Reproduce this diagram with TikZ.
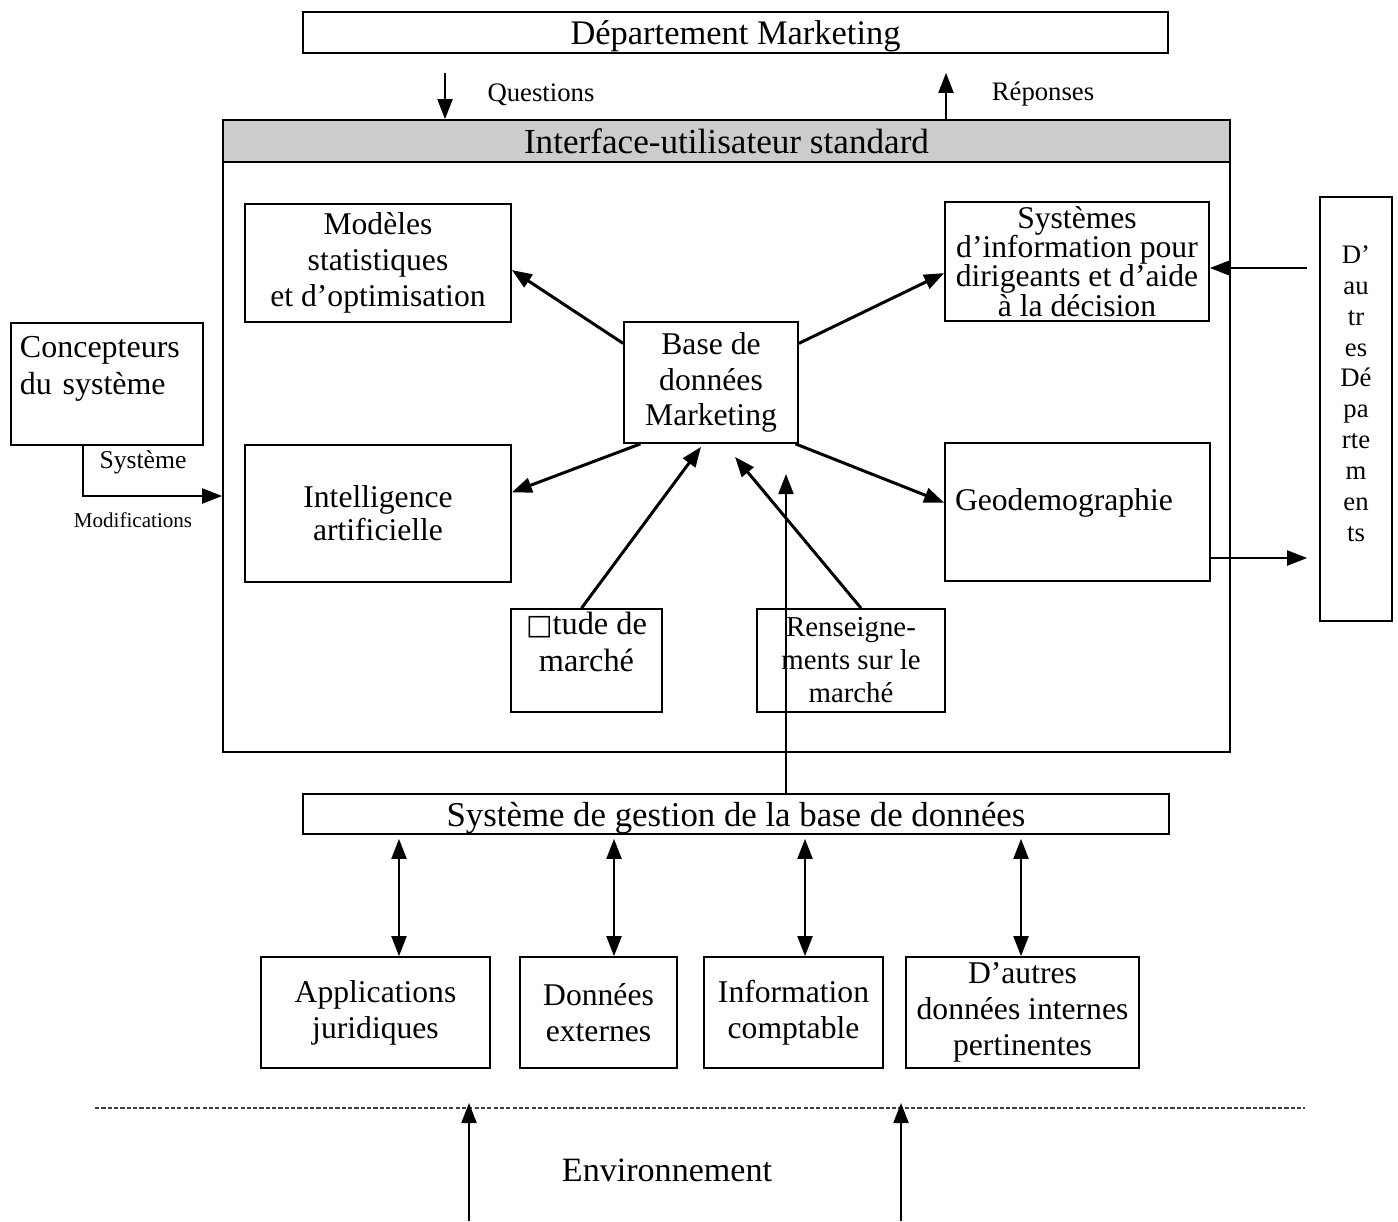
\documentclass[tikz,border=0pt]{standalone}
\usepackage{fontspec}
\setmainfont{Liberation Serif}
\newfontfamily\symbfont{DejaVu Sans}
\usetikzlibrary{arrows.meta}

\begin{document}
\begin{tikzpicture}[>={Triangle[length=2mm,width=1.5mm]},
  box/.style={draw,rectangle,line width=0.5pt,inner sep=0pt,align=center,font=\fontsize{9}{10.2}\selectfont},
  flow/.style={->,line width=0.85pt},
  link/.style={line width=0.6pt}]
\useasboundingbox (0,0) rectangle (13.98,-12.21);
% top part
\node[box,minimum width=8.65cm,minimum height=0.41cm,text depth=0pt,font=\fontsize{9.8}{11}\selectfont] (dept) at (7.355,-0.325) {Département Marketing};
\node[box,minimum width=10.07cm,minimum height=6.32cm] (ui) at (7.265,-4.36) {};
\node[box,fill=black!20,minimum width=10.07cm,minimum height=0.42cm,text depth=0pt,font=\fontsize{10}{11}\selectfont] (uibar) at (7.265,-1.41) {Interface-utilisateur standard};
\draw[->,link,shorten <=0.19cm] (dept.south -| 4.45,0) -- (uibar.north -| 4.45,0);
\draw[->,link,shorten >=0.19cm] (uibar.north -| 9.46,0) -- (dept.south -| 9.46,0);
\node[font=\fontsize{7.6}{9}\selectfont] (quest) at (5.41,-0.95) {Questions};
\node[font=\fontsize{7.6}{9}\selectfont] (rep) at (10.43,-0.94) {Réponses};
% inside the interface
\node[box,minimum width=2.66cm,minimum height=1.18cm] (modeles) at (3.78,-2.63) {Modèles\\statistiques\\et d’optimisation};
\node[box,minimum width=2.64cm,minimum height=1.19cm,font=\fontsize{9}{8.3}\selectfont] (sid) at (10.77,-2.615) {Systèmes\\d’information pour\\dirigeants et d’aide\\à la décision};
\node[box,minimum width=1.74cm,minimum height=1.21cm] (bdm) at (7.11,-3.825) {Base de\\données\\Marketing};
\node[box,minimum width=2.66cm,minimum height=1.37cm,font=\fontsize{9}{9.4}\selectfont] (ia) at (3.78,-5.135) {Intelligence\\artificielle};
\node[box,minimum width=2.65cm,minimum height=1.38cm,text width=2.45cm,align=left] (geo) at (10.775,-5.12) {Geodemographie\\[-3pt]~};
\node[box,minimum width=1.51cm,minimum height=1.03cm,font=\fontsize{9.2}{10.5}\selectfont] (etude) at (5.865,-6.605) {{\symbfont\fontsize{8}{9}\selectfont □}tude de\\marché\\~};
\node[box,minimum width=1.88cm,minimum height=1.03cm,font=\fontsize{8.2}{9.4}\selectfont] (rens) at (8.51,-6.605) {Renseigne-\\ments sur le\\marché};
\draw[flow] (bdm.156) -- (modeles.-3);
\draw[flow] (bdm.24) -- (sid.185);
\draw[flow] (bdm.221) -- (ia.9);
\draw[flow] (bdm.-36) -- (geo.176);
\draw[flow] ([xshift=-0.05cm]etude.north) -- ([xshift=-0.1cm,yshift=-0.03cm]bdm.south);
\draw[flow] ([xshift=0.1cm]rens.north) -- ([xshift=0.24cm,yshift=-0.13cm]bdm.south);
% left side
\node[box,minimum width=1.92cm,minimum height=1.22cm,text width=1.74cm,align=left,font=\fontsize{9.1}{10.5}\selectfont] (conc) at (1.07,-3.84) {Concepteurs\\du système\\~};
\draw[->,link] ([xshift=-0.24cm]conc.south) |- (ui.west |- 0,-4.96);
\node[font=\fontsize{7.3}{9}\selectfont] (sys) at (1.43,-4.62) {Système};
\node[font=\fontsize{6}{7}\selectfont] (modif) at (1.33,-5.20) {Modifications};
% right side
\node[box,minimum width=0.72cm,minimum height=4.24cm,font=\fontsize{7.6}{8.8}\selectfont] (autres) at (13.56,-4.09) {D’\\au\\tr\\es\\Dé\\pa\\rte\\m\\en\\ts\\~};
\draw[->,link,shorten <=0.12cm] (autres.west |- 0,-2.68) -- (sid.east |- 0,-2.68);
\coordinate (geoout) at (12.10,-5.58);
\draw[->,link,shorten >=0.12cm] (geoout) -- (geoout -| autres.west);
% database management
\node[box,minimum width=8.66cm,minimum height=0.40cm,text depth=0pt,font=\fontsize{9.9}{11}\selectfont] (sgbd) at (7.36,-8.14) {Système de gestion de la base de données};
\coordinate (bdmin) at (7.86,-4.74);
\draw[->,link] (sgbd.north -| bdmin) -- (bdmin);
\foreach \n/\x/\w/\t in {app/3.755/2.29/{Applications\\juridiques},don/5.985/1.57/{Données\\externes},info/7.935/1.79/{Information\\comptable},autint/10.225/2.33/{D’autres\\données internes\\pertinentes}} {
  \node[box,minimum width=\w cm,minimum height=1.11cm] (\n) at (\x,-10.125) {\t};
}
\foreach \n/\x in {app/3.99,don/6.14,info/8.05,autint/10.21} {
  \draw[<->,link,shorten <=0.04cm] (sgbd.south -| \x,0) -- (\n.north -| \x,0);
}
% environment
\draw[line width=0.6pt,black!75,dash pattern=on 1.2pt off 0.6pt] (0.95,-11.08) -- (13.05,-11.08);
\coordinate (envA) at (4.69,-12.21);
\coordinate (envB) at (9.01,-12.21);
\coordinate (envAtop) at (4.69,-11.03);
\coordinate (envBtop) at (9.01,-11.03);
\draw[->,link] (envA) -- (envAtop);
\draw[->,link] (envB) -- (envBtop);
\node[font=\fontsize{9.7}{11}\selectfont] (env) at (6.67,-11.70) {Environnement};
\end{tikzpicture}
\end{document}
